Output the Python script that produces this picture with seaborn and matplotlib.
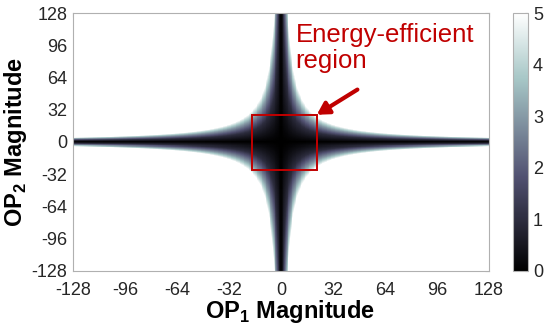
import numpy as np
import seaborn as sns
import matplotlib.pyplot as plt
from matplotlib.patches import Rectangle

# operand grids (cell centres, half-unit steps for a smooth image)
step = 0.5
op1_values = np.arange(-128, 128, step) + step / 2
op2_values = op1_values[::-1]   # top row first for heatmap

product_levels = [0, 200, 300, 400, 480, 550]
energy_levels = [0, 1, 2, 3, 4, 5]

tick_values = [-128, -96, -64, -32, 0, 32, 64, 96, 128]
cbar_ticks = [0, 1, 2, 3, 4, 5]

# energy-efficient box and label (data units)
box_x = [-18, 22]
box_y = [-28, 27]
arrow_tail = (47, 52)
label_pos = (9, 118)
label_text = "Energy-efficient\nregion"

product = np.abs(np.outer(op2_values, op1_values))
energy = np.interp(product, product_levels, energy_levels)

sns.set_style("white")
plt.rcParams["font.family"] = ["Liberation Sans", "DejaVu Sans"]
plt.rcParams["mathtext.fontset"] = "custom"
plt.rcParams["mathtext.bf"] = "Liberation Sans:bold"
plt.rcParams["mathtext.rm"] = "Liberation Sans:bold"

fig = plt.figure(figsize=(5.47, 3.26), dpi=100)
ax = fig.add_axes([0.1335, 0.169, 0.7605, 0.791])
cax = fig.add_axes([0.938, 0.169, 0.0274, 0.791])

sns.heatmap(energy, ax=ax, cbar_ax=cax, cmap="bone", vmin=0, vmax=5,
            xticklabels=False, yticklabels=False, rasterized=True)


def to_x(v):
    return (v + 128) / step


def to_y(v):
    return (128 - v) / step


ax.set_xticks([to_x(v) for v in tick_values])
ax.set_xticklabels([str(v) for v in tick_values], rotation=0)
ax.set_yticks([to_y(v) for v in tick_values])
ax.set_yticklabels([str(v) for v in tick_values], rotation=0)
ax.tick_params(direction="in", length=3, color="#b0b0b0", labelsize=13,
               labelcolor="#262626", top=True, right=True)
ax.tick_params(axis="x", pad=8)
ax.tick_params(axis="y", pad=4)
for s in ax.spines.values():
    s.set_visible(True)
    s.set_color("#b0b0b0")
    s.set_linewidth(0.8)

ax.set_xlabel(r"OP$_\mathbf{1}$ Magnitude", fontsize=17, fontweight="bold",
              color="black", labelpad=0)
ax.set_ylabel(r"OP$_\mathbf{2}$ Magnitude", fontsize=17, fontweight="bold",
              color="black", labelpad=2)
ax.xaxis.set_label_coords(0.522, -0.105)

# energy-efficient region
red = "#c00000"
ax.add_patch(Rectangle((to_x(box_x[0]), to_y(box_y[1])), (box_x[1] - box_x[0]) / step,
                       (box_y[1] - box_y[0]) / step, fill=False, edgecolor=red, lw=1.4))
ax.annotate("", xy=(to_x(box_x[1]), to_y(box_y[1])),
            xytext=(to_x(arrow_tail[0]), to_y(arrow_tail[1])),
            arrowprops=dict(arrowstyle="-|>,head_length=0.7,head_width=0.4",
                            color=red, lw=3, shrinkA=0, shrinkB=0))
ax.text(to_x(label_pos[0]), to_y(label_pos[1]), label_text, color=red,
        fontsize=18.5, va="top", ha="left", linespacing=1.1)

cax.set_yticks(cbar_ticks)
cax.tick_params(direction="in", length=2, labelsize=13, labelcolor="#262626",
                color="#808080")
cbar = ax.collections[0].colorbar
cbar.outline.set_visible(True)
cbar.outline.set_edgecolor("#b0b0b0")
cbar.outline.set_linewidth(0.8)

fig.savefig("out.png", dpi=100)
